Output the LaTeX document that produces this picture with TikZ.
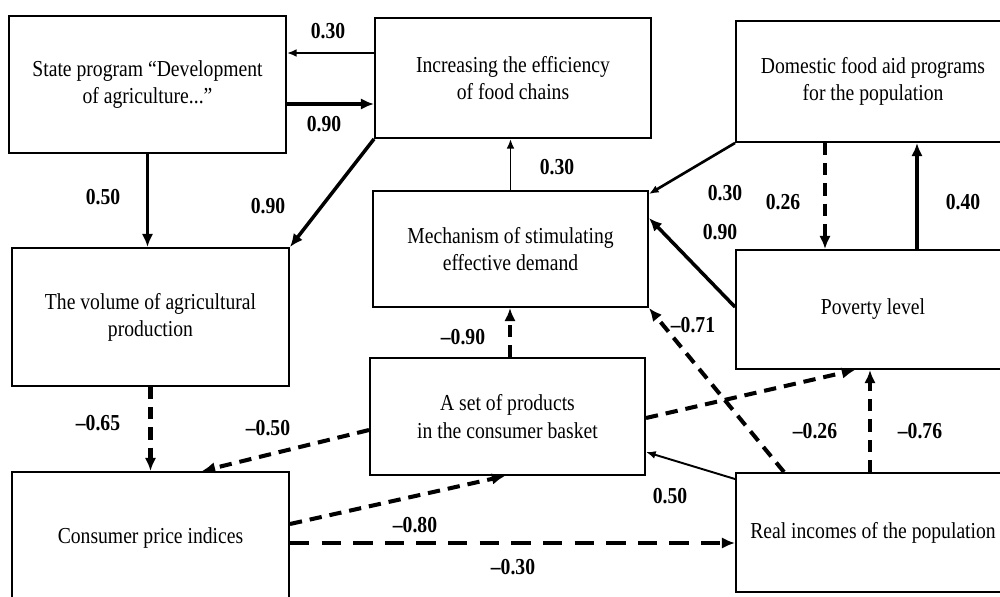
\documentclass[tikz,border=0pt]{standalone}
\usepackage{fontspec}
\setmainfont{Liberation Serif}[FakeStretch=0.86]
\usetikzlibrary{arrows.meta}
\newcommand{\blk}[5]{
    \node[box, minimum width=#4*0.02cm, minimum height=#5*0.02cm] (#1) at (#2) {#3};
}
\newcommand{\coef}[3]{
    \node[lab] (#1) at (#2) {#3};
}
\begin{document}
\begin{tikzpicture}[x=0.02cm, y=-0.02cm,
    box/.style={draw, line width=1.1pt, align=center, inner sep=0pt,
        font=\fontsize{13}{15.5}\selectfont},
    lab/.style={font=\fontsize{13}{15.5}\selectfont\bfseries, inner sep=0pt},
    strong/.style={line width=2pt, -{Latex[length=7.5pt,width=6.5pt]}},
    weak/.style={line width=1.1pt, -{Latex[length=5.5pt,width=4.5pt]}},
    neg/.style={line width=2.3pt, dash pattern=on 7pt off 4.5pt,
        -{Latex[length=7.5pt,width=6.5pt]}}]
        \useasboundingbox (0,0) rectangle (1000,596);
        \clip (0,0) rectangle (1000,596);
        \blk{state}{147.5,84.5}{State program “Development\\of agriculture...”}{277}{137}
        \blk{incr}{513,78}{Increasing the efficiency\\of food chains}{276}{120}
        \blk{dom}{873,81.5}{Domestic food aid programs\\for the population}{274}{121}
        \blk{mech}{510.5,249}{Mechanism of stimulating\\effective demand}{275}{116}
        \blk{vol}{150.5,317}{The volume of agricultural\\production}{277}{138}
        \blk{pov}{873,309.5}{Poverty level}{274}{119}
        \blk{set}{507.5,416.5}{A set of products\\in the consumer basket}{275}{117}
        \blk{cpi}{150.5,538}{Consumer price indices}{277}{132}
        \blk{real}{873,532.5}{Real incomes of the population}{274}{119}

        \draw[weak] (incr.west |- 0,53) -- (state.east |- 0,53);
        \draw[strong] (state.east |- 0,104) -- (incr.west |- 0,104);
        \draw[strong] (state.south) -- (state.south |- vol.north);
        \draw[strong] (incr.south west) -- (vol.north east);
        \draw[weak] (mech.north) -- (mech.north |- incr.south);
        \draw[weak, line width=1.5pt] (dom.south west) -- (mech.east |- 0,194);
        \draw[strong] (pov.west |- 0,307) -- (mech.east |- 0,218);
        \draw[neg] (dom.south -| 825,0) -- (pov.north -| 825,0);
        \draw[strong] (pov.north -| 917,0) -- (dom.south -| 917,0);
        \draw[neg] (vol.south) -- (vol.south |- cpi.north);
        \draw[neg] (set.west |- 0,430) -- (cpi.north -| 202,0);
        \draw[neg] (set.north -| 510,0) -- (mech.south -| 510,0);
        \draw[neg] (cpi.east |- 0,524) -- (set.south -| 505,0);
        \draw[neg, dash pattern=on 11pt off 7pt] (cpi.east |- 0,543) -- (real.west |- 0,543);
        \draw[neg] (real.north -| 784,0) -- (mech.south east);
        \draw[neg] (set.east |- 0,418) -- (pov.south -| 855,0);
        \draw[neg] (real.north -| 870,0) -- (pov.south -| 870,0);
        \draw[weak] (real.west |- 0,479) -- (set.east |- 0,452);

        \coef{c1}{328,31}{0.30}
        \coef{c2}{324,124}{0.90}
        \coef{c3}{103,197}{0.50}
        \coef{c4}{268,206}{0.90}
        \coef{c5}{557,167}{0.30}
        \coef{c6}{725,193}{0.30}
        \coef{c7}{783,202}{0.26}
        \coef{c8}{963,202}{0.40}
        \coef{c9}{720,232}{0.90}
        \coef{c10}{693,325}{–0.71}
        \coef{c11}{463,337}{–0.90}
        \coef{c12}{98,423}{–0.65}
        \coef{c13}{268,428}{–0.50}
        \coef{c14}{815,431}{–0.26}
        \coef{c15}{920,431}{–0.76}
        \coef{c16}{670,496}{0.50}
        \coef{c17}{415,525}{–0.80}
        \coef{c18}{513,567}{–0.30}
\end{tikzpicture}
\end{document}
